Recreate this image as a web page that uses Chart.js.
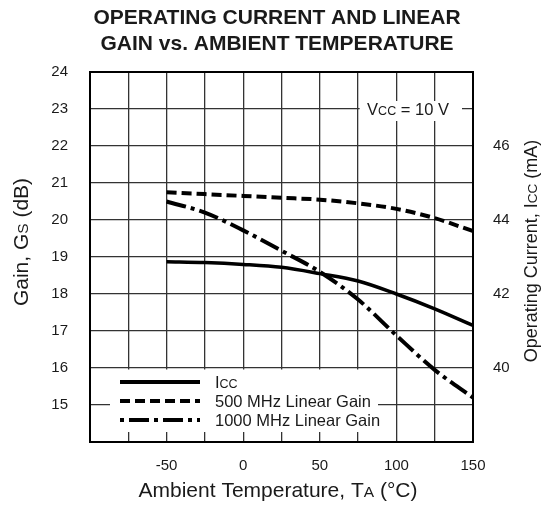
<!DOCTYPE html>
<html>
<head>
<meta charset="utf-8">
<script src="https://cdn.jsdelivr.net/npm/chart.js@4"></script>
<style>
  body { margin: 0; background: #fff; }
  #wrap { width: 548px; height: 506px; }
</style>
</head>
<body>
<div id="wrap"><canvas id="chart" width="548" height="506"></canvas></div>
<script>
var temps = [-50, -25, 0, 25, 50, 75, 100, 125, 150]
var icc = [42.87, 42.85, 42.8, 42.72, 42.55, 42.35, 42.0, 41.6, 41.15]
var gain500 = [20.75, 20.7, 20.65, 20.6, 20.55, 20.45, 20.3, 20.05, 19.7]
var gain1000 = [20.5, 20.2, 19.72, 19.17, 18.6, 17.85, 16.88, 15.95, 15.2]

var xLabels = [-50, 0, 50, 100, 150]
var gainLabels = [15, 16, 17, 18, 19, 20, 21, 22, 23, 24]
var iccLabels = [40, 42, 44, 46]

var FONT = '"Liberation Sans", Arial, sans-serif'
var INK = '#1a1a1a'

function pts(ys) {
    return temps.map(function (t, i) { return { x: t, y: ys[i] } })
}

// text made of runs with different sizes, e.g. I + small CC
function runs(ctx, parts, x, y, align) {
    var w = 0
    parts.forEach(function (p) {
        ctx.font = p[1] + 'px ' + FONT
        p.w = ctx.measureText(p[0]).width
        w += p.w
    })
    var cx = align === 'center' ? x - w / 2 : x
    parts.forEach(function (p) {
        ctx.font = p[1] + 'px ' + FONT
        ctx.textAlign = 'left'
        ctx.fillText(p[0], cx, y)
        cx += p.w
    })
}

var decor = {
    id: 'decor',
    beforeDatasetsDraw: function (chart) {
        var ctx = chart.ctx, a = chart.chartArea
        var x = chart.scales.x, y = chart.scales.y
        ctx.save()
        ctx.fillStyle = '#fff'
        // legend area
        var top16 = y.getPixelForValue(16)
        ctx.fillRect(a.left + 20, top16 + 1.5, x.getPixelForValue(88) - a.left - 20, a.bottom - 10 - top16 - 1.5)
        // Vcc label box
        ctx.fillRect(x.getPixelForValue(76), a.top + 29, a.right - 11 - x.getPixelForValue(76), 20)
        ctx.fillStyle = INK
        ctx.textBaseline = 'alphabetic'
        runs(ctx, [['V', 16.5], ['CC', 12.5], [' = 10 V', 16.5]], 408, y.getPixelForValue(23) + 6, 'center')
        // frame
        ctx.strokeStyle = '#000'
        ctx.lineWidth = 2
        ctx.strokeRect(a.left, a.top, a.right - a.left, a.bottom - a.top)
        ctx.restore()
    },
    afterDraw: function (chart) {
        var ctx = chart.ctx
        ctx.save()
        ctx.fillStyle = INK
        ctx.textBaseline = 'middle'
        ctx.textAlign = 'center'
        ctx.font = 'bold 21px ' + FONT
        ctx.fillText('OPERATING CURRENT AND LINEAR', 277, 18)
        ctx.fillText('GAIN vs. AMBIENT TEMPERATURE', 277, 44)

        ctx.textBaseline = 'alphabetic'
        runs(ctx, [['Ambient Temperature, T', 21], ['A', 15.5], [' (°C)', 21]], 278, 497, 'center')

        ctx.save()
        ctx.translate(28, 242)
        ctx.rotate(-Math.PI / 2)
        runs(ctx, [['Gain, G', 21], ['S', 15.5], [' (dB)', 21]], 0, 0, 'center')
        ctx.restore()

        ctx.save()
        ctx.translate(537, 251)
        ctx.rotate(-Math.PI / 2)
        runs(ctx, [['Operating Current, I', 18], ['CC', 13.5], [' (mA)', 18]], 0, 0, 'center')
        ctx.restore()

        // legend
        var rows = [
            { y: 382, dash: [], parts: [['I', 16.5], ['CC', 12.5]] },
            { y: 401, dash: [10, 5], parts: [['500 MHz Linear Gain', 16.5]] },
            { y: 420, dash: [4, 5, 20, 5], parts: [['1000 MHz Linear Gain', 16.5]] }
        ]
        rows.forEach(function (r) {
            ctx.strokeStyle = '#000'
            ctx.lineWidth = 4
            ctx.setLineDash(r.dash)
            ctx.beginPath()
            ctx.moveTo(120, r.y)
            ctx.lineTo(200, r.y)
            ctx.stroke()
            ctx.setLineDash([])
            ctx.fillStyle = INK
            runs(ctx, r.parts, 215, r.y + 6, 'left')
        })
        ctx.restore()
    }
}

new Chart('chart', {
    type: 'line',
    data: {
        datasets: [{
            label: 'Icc',
            data: pts(icc),
            yAxisID: 'y2',
            borderColor: '#000',
            borderWidth: 3.5,
            pointRadius: 0,
            cubicInterpolationMode: 'monotone',
            clip: false
        }, {
            label: '500 MHz Linear Gain',
            data: pts(gain500),
            yAxisID: 'y',
            borderColor: '#000',
            borderWidth: 4,
            borderDash: [10, 5],
            pointRadius: 0,
            cubicInterpolationMode: 'monotone',
            clip: false
        }, {
            label: '1000 MHz Linear Gain',
            data: pts(gain1000),
            yAxisID: 'y',
            borderColor: '#000',
            borderWidth: 4,
            borderDash: [20, 5, 4, 5],
            pointRadius: 0,
            cubicInterpolationMode: 'monotone',
            clip: false
        }]
    },
    options: {
        responsive: false,
        animation: false,
        layout: { padding: { top: 72, left: 0, right: 0, bottom: 0 } },
        plugins: {
            legend: { display: false },
            tooltip: { enabled: false }
        },
        scales: {
            x: {
                type: 'linear',
                min: -100,
                max: 150,
                afterFit: function (s) { s.height = 64 },
                afterBuildTicks: function (s) {
                    s.ticks = []
                    for (var v = -100; v <= 150; v += 25) s.ticks.push({ value: v })
                },
                ticks: {
                    autoSkip: false,
                    maxRotation: 0,
                    padding: 15,
                    color: INK,
                    font: { family: FONT, size: 15 },
                    callback: function (v) { return xLabels.indexOf(v) >= 0 ? String(v) : '' }
                },
                grid: { color: '#333', lineWidth: 1.3, drawTicks: false },
                border: { display: false }
            },
            y: {
                position: 'left',
                min: 14,
                max: 24,
                afterFit: function (s) { s.width = 90 },
                ticks: {
                    stepSize: 1,
                    padding: 22,
                    crossAlign: 'center',
                    color: INK,
                    font: { family: FONT, size: 15 },
                    callback: function (v) { return gainLabels.indexOf(v) >= 0 ? String(v) : '' }
                },
                grid: { color: '#333', lineWidth: 1.3, drawTicks: false },
                border: { display: false }
            },
            y2: {
                position: 'right',
                min: 38,
                max: 48,
                afterFit: function (s) { s.width = 75 },
                ticks: {
                    stepSize: 2,
                    padding: 20,
                    crossAlign: 'center',
                    color: INK,
                    font: { family: FONT, size: 15 },
                    callback: function (v) { return iccLabels.indexOf(v) >= 0 ? String(v) : '' }
                },
                grid: { display: false, drawTicks: false },
                border: { display: false }
            }
        }
    },
    plugins: [decor]
})
</script>
</body>
</html>
